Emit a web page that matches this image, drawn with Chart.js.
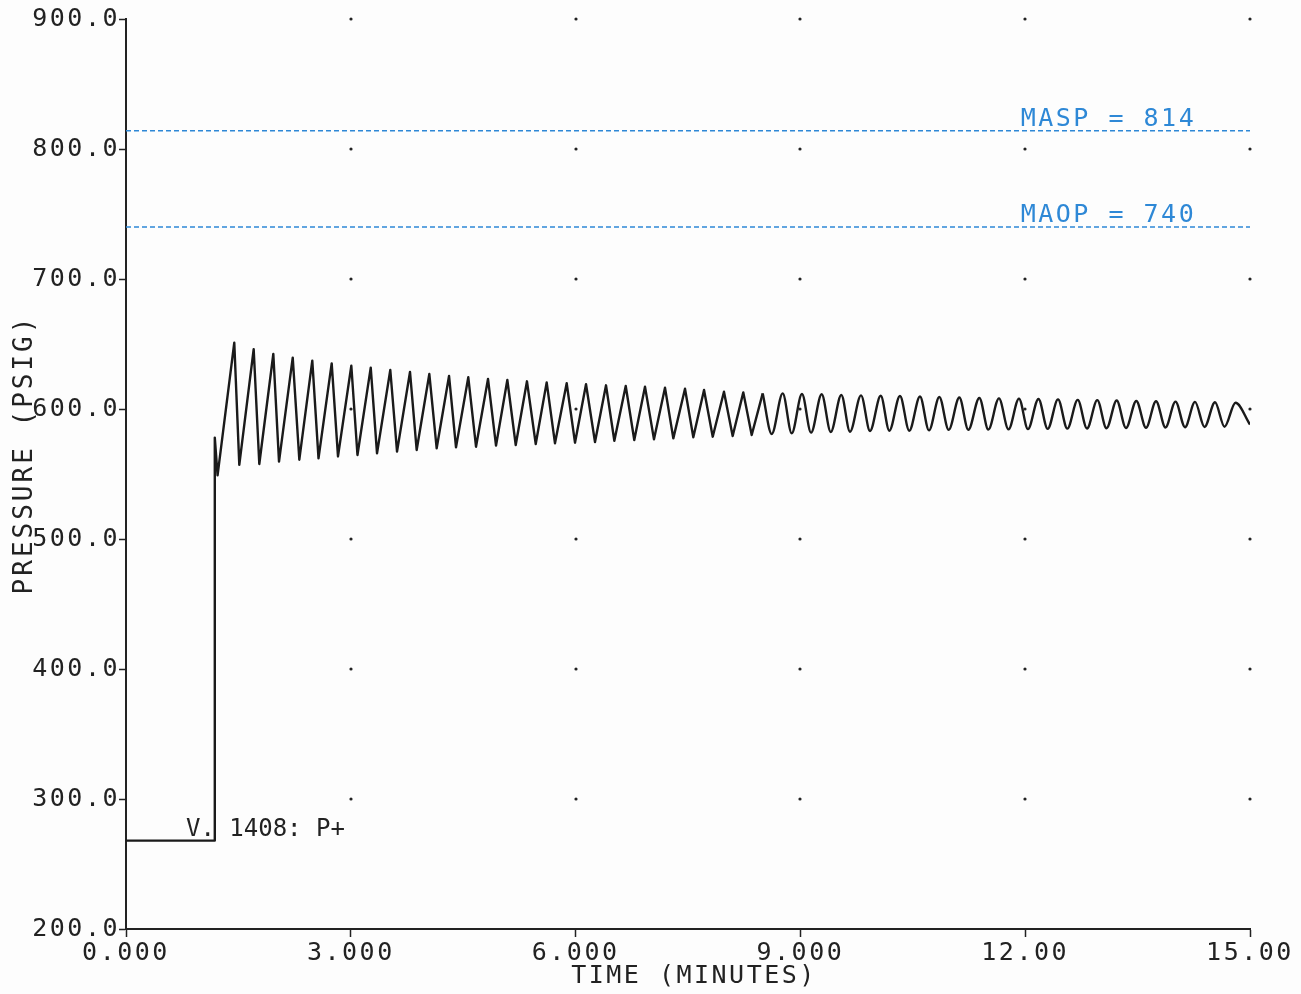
<!DOCTYPE html>
<html>
<head>
<meta charset="utf-8">
<script src="https://cdn.jsdelivr.net/npm/chart.js@4.4.1/dist/chart.umd.min.js"></script>
<style>
  html, body { margin: 0; padding: 0; background: #fdfdfd; }
  #wrap { width: 1301px; height: 994px; position: relative; }
</style>
</head>
<body>
<div id="wrap"><canvas id="c"></canvas></div>
<script>
// ---- data ----
// initial step (time in minutes, pressure in psig)
const stepTimes = [0, 1.178, 1.185, 1.222];
const stepPressures = [268, 268, 578, 549];

// oscillation peaks
const peakTimes = [1.445, 1.704, 1.966, 2.225, 2.486, 2.745, 3.007, 3.266, 3.527, 3.790,
  4.048, 4.311, 4.568, 4.831, 5.089, 5.351, 5.614, 5.881, 6.139, 6.406,
  6.669, 6.926, 7.193, 7.460, 7.714, 7.980, 8.238, 8.497, 8.764, 9.021,
  9.284, 9.546, 9.809, 10.072, 10.329, 10.596, 10.854, 11.121, 11.388, 11.650,
  11.917, 12.177, 12.438, 12.701, 12.962, 13.221, 13.483, 13.746, 14.006, 14.266,
  14.533, 14.807];
const peakPressures = [651, 646, 642.3, 639.5, 637.2, 635.1, 633.3, 631.8, 630, 628.5,
  626.9, 625.4, 624.4, 623.1, 622.3, 621.3, 620.5, 619.8, 619, 618.2,
  617.7, 617.2, 616.4, 615.6, 614.6, 613.3, 612.8, 612, 612, 611.5,
  611.3, 610.8, 610.5, 610.2, 610, 609.6, 609.2, 608.8, 608.5, 608.2,
  608, 607.7, 607.4, 607, 606.8, 606.5, 606.2, 606, 605.7, 605.5,
  605.2, 604.8];

// oscillation troughs
const troughTimes = [1.512, 1.779, 2.042, 2.313, 2.569, 2.829, 3.089, 3.350, 3.617, 3.879,
  4.146, 4.404, 4.671, 4.938, 5.201, 5.468, 5.725, 5.992, 6.259, 6.517,
  6.783, 7.046, 7.304, 7.571, 7.830, 8.096, 8.350, 8.617, 8.884, 9.142,
  9.405, 9.662, 9.929, 10.187, 10.453, 10.716, 10.979, 11.241, 11.508, 11.777,
  12.037, 12.300, 12.562, 12.825, 13.085, 13.345, 13.612, 13.872, 14.133, 14.393,
  14.660];
const troughPressures = [557, 557.7, 559.5, 561, 562, 563.5, 564.6, 565.9, 567.2, 568.5,
  569.8, 570.5, 571, 571.8, 572.3, 573.1, 573.6, 574.1, 574.6, 575.6,
  576.2, 576.7, 577.4, 578.2, 578.7, 579.2, 580, 580.8, 581.3, 581.8,
  582.3, 582.5, 583.1, 583.3, 583.3, 583.6, 584, 584, 584.2, 584.3,
  584.5, 584.7, 584.9, 585, 585.2, 585.4, 585.6, 585.8, 586, 586.2,
  586.4];

const endTime = 15.0;
const endPressure = 588;

// limit lines
const limitNames = ['MASP', 'MAOP'];
const limitValues = [814, 740];
const limitLabelTime = 11.94;

// annotation
const noteText = 'V. 1408: P+';
const noteTime = 0.80;
const notePressure = 268;

// axes
const xTicks = [0, 3, 6, 9, 12, 15];
const yTicks = [200, 300, 400, 500, 600, 700, 800, 900];
const xTitle = 'TIME (MINUTES)';
const yTitle = 'PRESSURE (PSIG)';

// ---- build the trace ----
const trace = [];
for (let i = 0; i < stepTimes.length; i++) trace.push({x: stepTimes[i], y: stepPressures[i]});
for (let i = 0; i < peakTimes.length; i++) {
  trace.push({x: peakTimes[i], y: peakPressures[i]});
  if (i < troughTimes.length) trace.push({x: troughTimes[i], y: troughPressures[i]});
}
trace.push({x: endTime, y: endPressure});

// early oscillations are drawn as sharp zig-zags, later ones as smooth waves
const smoothFrom = peakTimes[27];
const traceSharp = trace.filter(p => p.x <= smoothFrom);
const traceSmooth = trace.filter(p => p.x >= smoothFrom);

const FONT = "'DejaVu Sans Mono', monospace";
const INK = '#222222';
const LINE = '#1a1a1a';
const BLUE = '#2e88d6';
const SPACING = '2.5px';

const limitSets = limitValues.map((v, i) => ({
  label: limitNames[i],
  data: [{x: xTicks[0], y: v}, {x: xTicks[xTicks.length - 1], y: v}],
  borderColor: BLUE,
  borderWidth: 1.6,
  borderDash: [5, 3],
  pointRadius: 0,
  tension: 0
}));

const overlay = {
  id: 'overlay',
  beforeDraw(chart) {
    chart.ctx.letterSpacing = SPACING;
  },
  beforeDatasetsDraw(chart) {
    const {ctx, scales: {x, y}} = chart;
    ctx.save();
    ctx.fillStyle = INK;
    xTicks.slice(1).forEach(tx => {
      yTicks.slice(1).forEach(ty => {
        const px = Math.round(x.getPixelForValue(tx));
        const py = Math.round(y.getPixelForValue(ty));
        ctx.beginPath();
        ctx.arc(px, py, 1.6, 0, Math.PI * 2);
        ctx.fill();
      });
    });
    ctx.restore();
  },
  afterDatasetsDraw(chart) {
    const {ctx, scales: {x, y}} = chart;
    ctx.save();
    ctx.letterSpacing = SPACING;
    ctx.font = '25px ' + FONT;
    ctx.fillStyle = BLUE;
    ctx.textAlign = 'left';
    ctx.textBaseline = 'alphabetic';
    limitValues.forEach((v, i) => {
      ctx.fillText(limitNames[i] + ' = ' + v, x.getPixelForValue(limitLabelTime), y.getPixelForValue(v) - 5);
    });
    ctx.fillStyle = INK;
    ctx.letterSpacing = '0px';
    ctx.font = '24px ' + FONT;
    ctx.fillText(noteText, x.getPixelForValue(noteTime), y.getPixelForValue(notePressure) - 5);
    // x-axis title
    ctx.letterSpacing = SPACING;
    ctx.font = '25px ' + FONT;
    ctx.textAlign = 'center';
    ctx.textBaseline = 'middle';
    ctx.fillText(xTitle, x.getPixelForValue(7.5) + 6, 976);
    // y-axis title
    ctx.letterSpacing = '3px';
    ctx.font = '26px ' + FONT;
    ctx.translate(25, y.getPixelForValue(565));
    ctx.rotate(-Math.PI / 2);
    ctx.fillText(yTitle, 0, 0);
    ctx.restore();
  }
};

new Chart(document.getElementById('c'), {
  type: 'line',
  data: {
    datasets: [
      {
        label: 'Pressure',
        data: traceSharp,
        borderColor: LINE,
        borderWidth: 2.4,
        borderJoinStyle: 'round',
        pointRadius: 0,
        tension: 0
      },
      {
        label: 'Pressure (cont.)',
        data: traceSmooth,
        borderColor: LINE,
        borderWidth: 2.4,
        pointRadius: 0,
        cubicInterpolationMode: 'monotone'
      },
      ...limitSets
    ]
  },
  options: {
    responsive: true,
    maintainAspectRatio: false,
    animation: false,
    layout: { padding: { top: 19, right: 51, bottom: 0, left: 0 } },
    plugins: { legend: { display: false }, tooltip: { enabled: false } },
    scales: {
      x: {
        type: 'linear',
        min: 0, max: 15,
        afterBuildTicks(s) { s.ticks = xTicks.map(v => ({value: v})); },
        afterFit(s) { s.height = 65; },
        border: { display: true, color: INK, width: 2 },
        grid: { display: true, drawOnChartArea: false, drawTicks: true, tickLength: 8, tickColor: INK, tickWidth: 1.5 },
        ticks: {
          color: INK, font: { family: FONT, size: 25 }, padding: 1, maxRotation: 0, autoSkip: false,
          callback: v => Number(v).toPrecision(4)
        },
        title: { display: false }
      },
      y: {
        type: 'linear',
        min: 200, max: 900,
        afterBuildTicks(s) { s.ticks = yTicks.map(v => ({value: v})); },
        afterFit(s) { s.width = 126; },
        border: { display: true, color: INK, width: 2 },
        grid: { display: true, drawOnChartArea: false, drawTicks: true, tickLength: 7, tickColor: INK, tickWidth: 1.5 },
        ticks: {
          color: INK, font: { family: FONT, size: 25 }, padding: -1, autoSkip: false,
          callback: v => Number(v).toFixed(1)
        },
        title: { display: false }
      }
    }
  },
  plugins: [overlay]
});
</script>
</body>
</html>
